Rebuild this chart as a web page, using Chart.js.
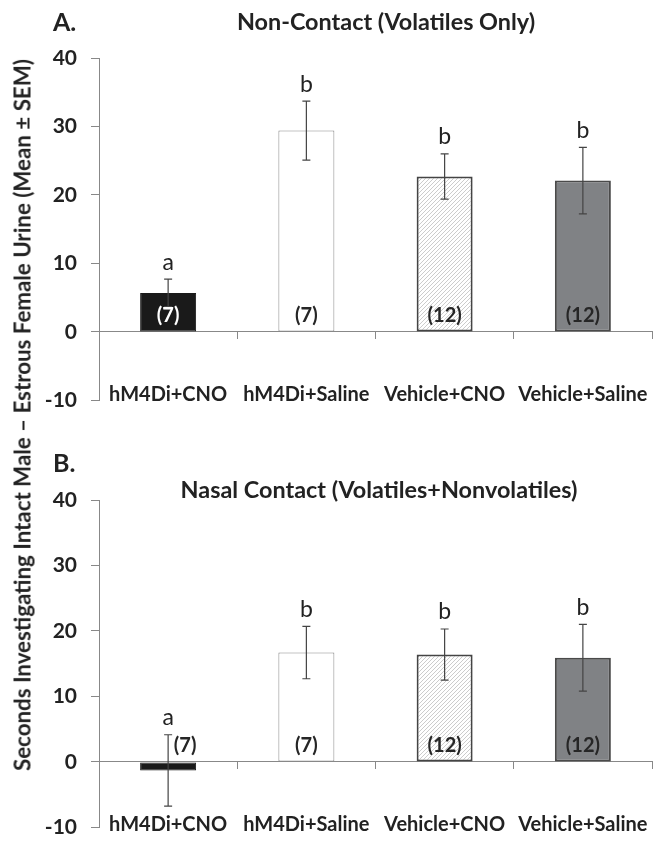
<!DOCTYPE html>
<html lang="en">
<head>
  <meta charset="UTF-8">
  <title>hM4Di urine investigation</title>
  <script src="https://cdn.jsdelivr.net/npm/chart.js"></script>
  <style>
    body { margin: 0; background: #fff; font-family: Lato, sans-serif; color: #222; }
    #wrap { position: relative; width: 653px; height: 854px; }
    canvas { position: absolute; left: 0; }
    .txt { position: absolute; font-weight: bold; white-space: nowrap; transform: translate(-50%, -50%); }
    .panel { font-size: 25px; transform: translateY(-50%); }
    .title { font-size: 23.4px; }
    #ytitle { font-size: 22.3px; transform: translate(-50%, -50%) rotate(-90deg); }
  </style>
</head>
<body>
<div id="wrap">
  <canvas id="chartA" width="653" height="427" style="top:0"></canvas>
  <canvas id="chartB" width="653" height="427" style="top:427px"></canvas>
  <div class="txt panel" style="left:53px; top:21px">A.</div>
  <div class="txt title" style="left:386px; top:21px">Non-Contact (Volatiles Only)</div>
  <div class="txt panel" style="left:53px; top:462px">B.</div>
  <div class="txt title" style="left:379px; top:489px">Nasal Contact (Volatiles+Nonvolatiles)</div>
  <div class="txt" id="ytitle" style="left:22px; top:415px">Seconds Investigating Intact Male – Estrous Female Urine (Mean ± SEM)</div>
</div>

<script>
  const groups = ['hM4Di+CNO', 'hM4Di+Saline', 'Vehicle+CNO', 'Vehicle+Saline'];
  const nLabels = ['(7)', '(7)', '(12)', '(12)'];

  // A. non-contact (volatiles only)
  const nonContactMean = [5.7, 29.4, 22.7, 22.1];
  const nonContactSem = [2.0, 4.3, 3.3, 4.85];
  const nonContactLetters = ['a', 'b', 'b', 'b'];

  // B. nasal contact (volatiles + nonvolatiles)
  const nasalMean = [-1.3, 16.7, 16.4, 15.9];
  const nasalSem = [5.45, 4.0, 3.9, 5.1];
  const nasalLetters = ['a', 'b', 'b', 'b'];

  const yTicks = [-10, 0, 10, 20, 30, 40];

  function hatch() {
    const c = document.createElement('canvas');
    c.width = 4; c.height = 4;
    const g = c.getContext('2d');
    g.fillStyle = '#fff';
    g.fillRect(0, 0, 4, 4);
    g.strokeStyle = '#cccccc';
    g.lineWidth = 1;
    g.beginPath();
    g.moveTo(0, 4); g.lineTo(4, 0);
    g.moveTo(-1, 1); g.lineTo(1, -1);
    g.moveTo(3, 5); g.lineTo(5, 3);
    g.stroke();
    return g.createPattern(c, 'repeat');
  }

  // error bars, letters and group sizes
  function extras(sems, letters) {
    return {
      id: 'extras',
      afterDatasetsDraw(chart) {
        const ctx = chart.ctx;
        const y = chart.scales.y;
        const means = chart.data.datasets[0].data;
        chart.getDatasetMeta(0).data.forEach((bar, i) => {
          const top = y.getPixelForValue(means[i] + sems[i]);
          const bot = y.getPixelForValue(means[i] - sems[i]);
          ctx.save();
          ctx.strokeStyle = '#444';
          ctx.lineWidth = 1.2;
          ctx.beginPath();
          ctx.moveTo(bar.x, top); ctx.lineTo(bar.x, bot);
          ctx.moveTo(bar.x - 4, top); ctx.lineTo(bar.x + 4, top);
          ctx.moveTo(bar.x - 4, bot); ctx.lineTo(bar.x + 4, bot);
          ctx.stroke();

          ctx.textAlign = 'center';
          ctx.textBaseline = 'middle';
          ctx.fillStyle = '#222';
          ctx.font = '23px Lato';
          ctx.fillText(letters[i], bar.x, top - 17);

          const inside = means[i] > 0;
          ctx.font = 'bold 20px Lato';
          ctx.fillStyle = (i === 0 && inside) ? '#fff' : '#262626';
          ctx.fillText(nLabels[i], inside ? bar.x : bar.x + 17, y.getPixelForValue(0) - 16);
          ctx.restore();
        });
      }
    };
  }

  function makePanel(id, means, sems, letters, padTop) {
    const ctx = document.getElementById(id).getContext('2d');
    return new Chart(ctx, {
      type: 'bar',
      data: {
        labels: groups,
        datasets: [{
          data: means,
          backgroundColor: ['#1a1a1a', '#ffffff', hatch(), '#808285'],
          borderColor: ['#1a1a1a', '#888888', '#444', '#4a4a4a'],
          borderWidth: [1, 1, 2, 2],
          borderSkipped: false,
          categoryPercentage: 1,
          barPercentage: 0.405
        }]
      },
      options: {
        responsive: false,
        animation: false,
        layout: { padding: { top: padTop, bottom: 15, left: 0, right: 1 } },
        plugins: { legend: { display: false }, tooltip: { enabled: false } },
        scales: {
          x: {
            position: { y: 0 },
            offset: true,
            grid: { offset: true, drawOnChartArea: false, tickLength: 7, color: '#888' },
            border: { color: '#888', width: 1 },
            ticks: {
              padding: 44, maxRotation: 0, minRotation: 0, autoSkip: false,
              color: '#222', font: { family: 'Lato', weight: 'bold', size: 20 }
            },
            afterFit(s) { s.paddingLeft = 0; s.paddingRight = 0; }
          },
          y: {
            min: -10,
            max: 40,
            afterBuildTicks(s) { s.ticks = yTicks.map(v => ({ value: v })); },
            afterFit(s) { s.width = 99; },
            grid: { drawOnChartArea: false, tickLength: 8, color: '#888' },
            border: { color: '#888', width: 1 },
            ticks: { padding: 14, color: '#222', font: { family: 'Lato', weight: 'bold', size: 21 } }
          }
        }
      },
      plugins: [extras(sems, letters)]
    });
  }

  makePanel('chartA', nonContactMean, nonContactSem, nonContactLetters, 58);
  makePanel('chartB', nasalMean, nasalSem, nasalLetters, 73);
</script>
</body>
</html>
